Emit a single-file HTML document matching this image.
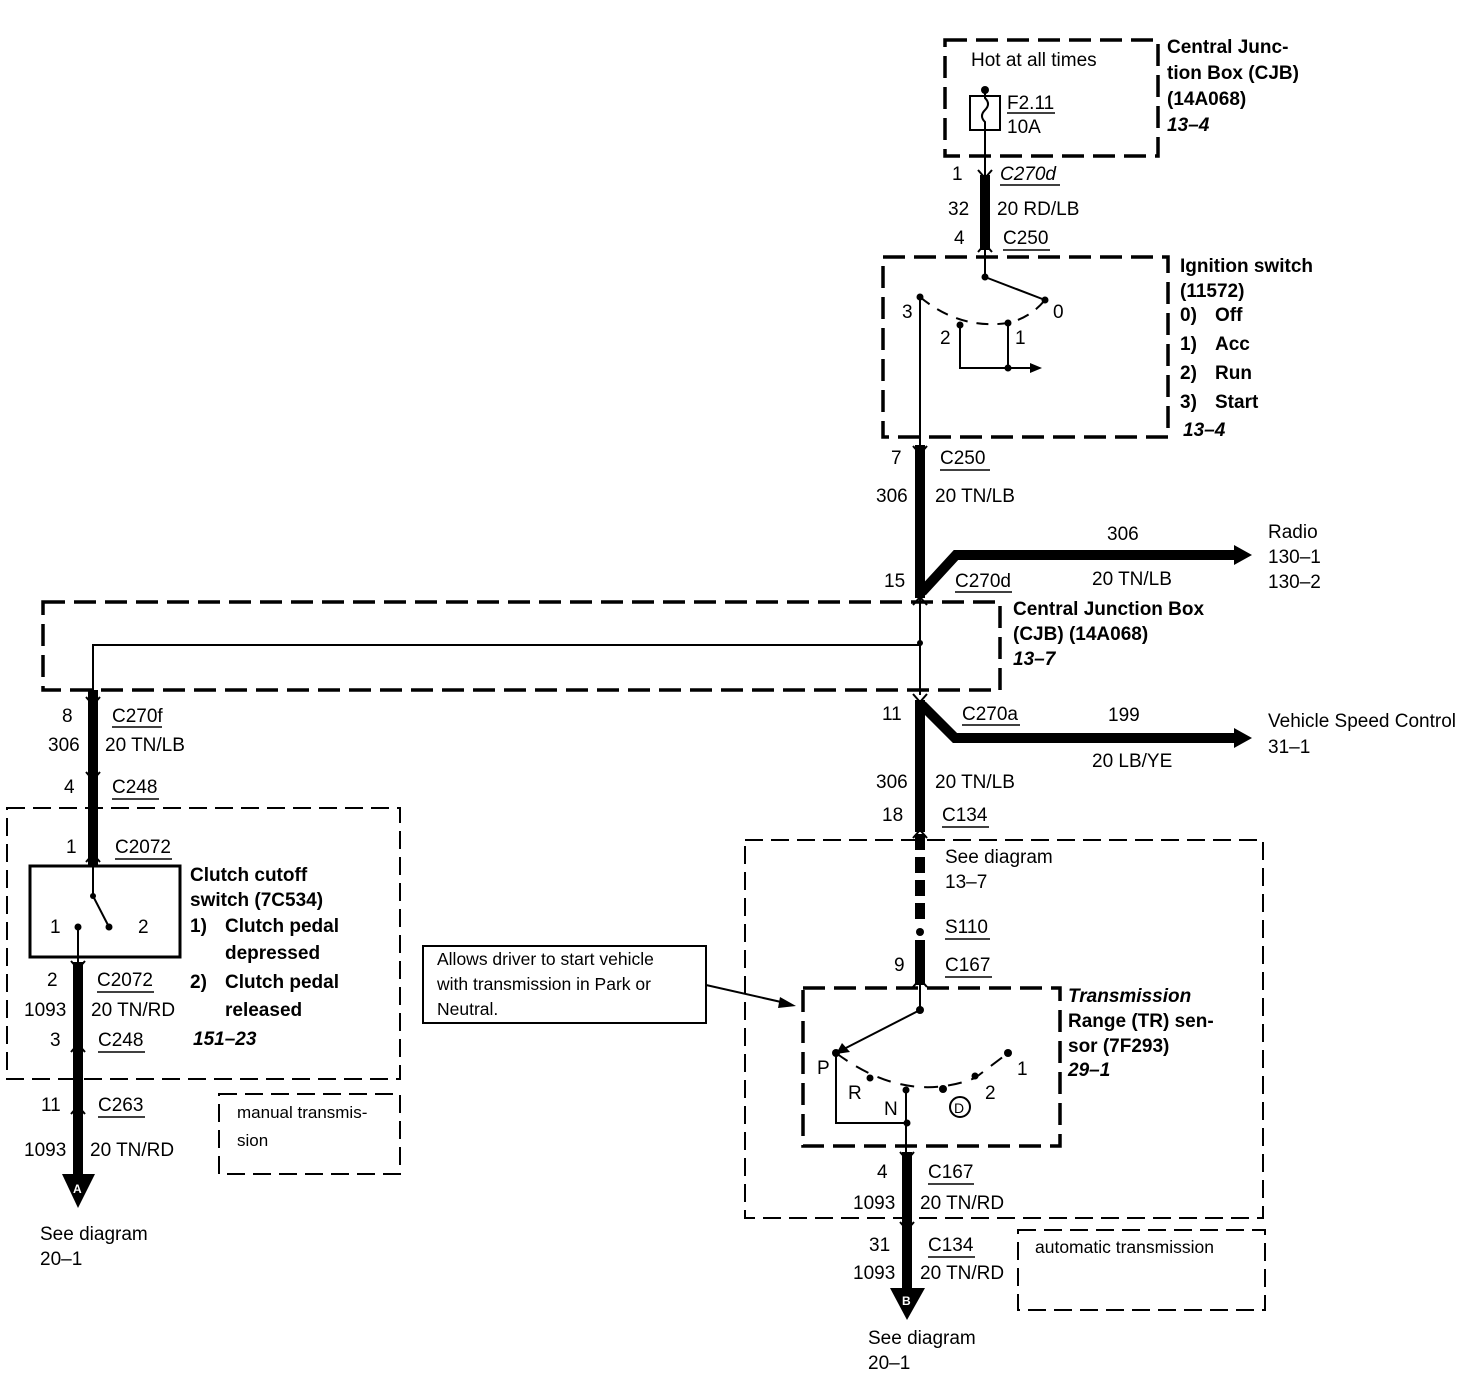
<!DOCTYPE html>
<html><head><meta charset="utf-8"><style>
html,body{margin:0;padding:0;background:#fff;width:1466px;height:1376px;overflow:hidden}
svg{display:block}
text{font-family:"Liberation Sans",Arial,sans-serif;font-size:19px;fill:#000}
.b{font-weight:bold}
.i{font-style:italic;font-weight:bold}
</style></head><body>
<svg width="1466" height="1376" viewBox="0 0 1466 1376" xmlns="http://www.w3.org/2000/svg">
<g fill="none" stroke="#000">
<rect x="945" y="40" width="213" height="116" stroke-width="3.5" stroke-dasharray="22,9"/>
<rect x="883" y="257" width="285" height="180" stroke-width="3.5" stroke-dasharray="22,9"/>
<rect x="43" y="602" width="957" height="88" stroke-width="3.5" stroke-dasharray="22,9"/>
<rect x="803" y="988" width="257" height="158" stroke-width="3.5" stroke-dasharray="22,9"/>
<rect x="7" y="808" width="393" height="271" stroke-width="2" stroke-dasharray="18,8"/>
<rect x="219" y="1094" width="181" height="80" stroke-width="2" stroke-dasharray="18,8"/>
<rect x="745" y="840" width="518" height="378" stroke-width="2" stroke-dasharray="18,8"/>
<rect x="1018" y="1230" width="247" height="80" stroke-width="2" stroke-dasharray="18,8"/>
<rect x="423" y="946" width="283" height="77" stroke-width="2"/>
<line x1="706" y1="985" x2="790" y2="1004" stroke-width="2"/>

<rect x="970" y="96" width="30" height="34" stroke-width="2"/>
<path d="M985 90 V98 Q991 104 985 110 Q979 116 985 122 V175" stroke-width="2"/>
<line x1="1007" y1="113" x2="1055" y2="113" stroke-width="1.5"/>
<line x1="985" y1="175" x2="985" y2="250" stroke-width="10"/>

<line x1="985" y1="250" x2="985" y2="277" stroke-width="2"/>
<line x1="985" y1="277" x2="1045" y2="300" stroke-width="2"/>
<path d="M920 297 Q960 330 1008 323 Q1030 318 1045 300" stroke-width="2" stroke-dasharray="12,9"/>
<path d="M960 325 V368 H1030 M1008 323 V368" stroke-width="2"/>
<line x1="920" y1="297" x2="920" y2="445" stroke-width="2"/>

<line x1="920" y1="445" x2="920" y2="598" stroke-width="10"/>
<path d="M922 592 L956 555 H1236" stroke-width="10"/>
<line x1="920" y1="598" x2="920" y2="695" stroke-width="2"/>
<path d="M920 645 H93 V690" stroke-width="2"/>
<line x1="920" y1="700" x2="920" y2="832" stroke-width="10"/>
<path d="M922 705 L955 738 H1236" stroke-width="10"/>
<line x1="920" y1="834" x2="920" y2="925" stroke-width="10" stroke-dasharray="16,7"/>
<line x1="920" y1="940" x2="920" y2="985" stroke-width="10"/>
<line x1="920" y1="985" x2="920" y2="1010" stroke-width="2"/>

<line x1="920" y1="1010" x2="840" y2="1051" stroke-width="2"/>
<path d="M836 1053 Q906 1105 975 1078 L1008 1053" stroke-width="2" stroke-dasharray="14,10"/>
<path d="M836 1053 V1123 H907 M906 1090 V1152" stroke-width="2"/>
<line x1="907" y1="1152" x2="907" y2="1292" stroke-width="10"/>
<circle cx="960" cy="1107" r="10" stroke-width="2"/>

<line x1="93" y1="690" x2="93" y2="866" stroke-width="10"/>
<rect x="30" y="866" width="150" height="91" stroke-width="3"/>
<path d="M93 866 V896 L109 927" stroke-width="2"/>
<line x1="78" y1="927" x2="78" y2="962" stroke-width="2"/>
<line x1="78" y1="962" x2="78" y2="1178" stroke-width="10"/>

<g stroke-width="1.5">
<line x1="1000" y1="185" x2="1060" y2="185"/><line x1="1003" y1="250" x2="1050" y2="250"/>
<line x1="940" y1="470" x2="990" y2="470"/><line x1="955" y1="592" x2="1012" y2="592"/>
<line x1="962" y1="725" x2="1020" y2="725"/><line x1="942" y1="827" x2="989" y2="827"/>
<line x1="945" y1="939" x2="990" y2="939"/><line x1="945" y1="977" x2="992" y2="977"/>
<line x1="928" y1="1184" x2="974" y2="1184"/><line x1="928" y1="1257" x2="975" y2="1257"/>
<line x1="112" y1="727" x2="162" y2="727"/><line x1="112" y1="799" x2="159" y2="799"/>
<line x1="115" y1="859" x2="172" y2="859"/><line x1="97" y1="992" x2="154" y2="992"/>
<line x1="98" y1="1052" x2="145" y2="1052"/><line x1="98" y1="1117" x2="145" y2="1117"/>
</g>
<g stroke-width="2">
<path d="M978 170 L985 178 L992 170"/><path d="M978 252 L985 244 L992 252"/>
<path d="M913 446 L920 454 L927 446"/><path d="M913 605 L920 597 L927 605"/>
<path d="M913 694 L920 702 L927 694"/><path d="M913 838 L920 830 L927 838"/>
<path d="M913 987 L920 979 L927 987"/><path d="M900 1152 L907 1160 L914 1152"/>
<path d="M900 1222 L907 1230 L914 1222"/>
<path d="M86 697 L93 705 L100 697"/><path d="M86 772 L93 780 L100 772"/>
<path d="M86 862 L93 854 L100 862"/><path d="M71 961 L78 969 L85 961"/>
<path d="M71 1052 L78 1044 L85 1052"/><path d="M71 1114 L78 1106 L85 1114"/>
</g>
</g>
<g fill="#000">
<polygon points="1234,545 1252,555 1234,565"/>
<polygon points="1234,728 1252,738 1234,748"/>
<polygon points="1030,363 1042,368 1030,373"/>
<polygon points="780,997 796,1006 778,1008"/>
<polygon points="842,1043 850,1052 836,1054"/>
<polygon points="62,1174 95,1174 78,1208"/>
<polygon points="890,1288 925,1288 907,1320"/>
<circle cx="985" cy="90" r="4"/><circle cx="985" cy="277" r="3.5"/><circle cx="1045" cy="300" r="3.5"/>
<circle cx="920" cy="297" r="3.5"/><circle cx="960" cy="325" r="3.5"/><circle cx="1008" cy="323" r="3.5"/>
<circle cx="1008" cy="368" r="3.5"/><circle cx="920" cy="643" r="3"/><circle cx="920" cy="932" r="4"/>
<circle cx="920" cy="1010" r="4"/><circle cx="836" cy="1053" r="4"/><circle cx="870" cy="1078" r="3.5"/>
<circle cx="906" cy="1090" r="3.5"/><circle cx="943" cy="1089" r="4"/><circle cx="975" cy="1076" r="3.5"/>
<circle cx="1008" cy="1053" r="4"/><circle cx="907" cy="1123" r="3.5"/>
<circle cx="93" cy="896" r="3"/><circle cx="109" cy="927" r="3.5"/><circle cx="78" cy="927" r="3.5"/>
</g>
<text x="73" y="1193" style="fill:#fff;font-size:12px;font-weight:bold">A</text>
<text x="902" y="1305" style="fill:#fff;font-size:12px;font-weight:bold">B</text>

<text x="971" y="66">Hot at all times</text>
<text x="1007" y="109">F2.11</text><text x="1007" y="133">10A</text>
<text class="b" x="1167" y="53">Central Junc-</text><text class="b" x="1167" y="79">tion Box (CJB)</text>
<text class="b" x="1167" y="105">(14A068)</text><text class="i" x="1167" y="131">13–4</text>
<text x="952" y="180">1</text><text x="1000" y="180" font-style="italic">C270d</text>
<text x="948" y="215">32</text><text x="997" y="215">20 RD/LB</text>
<text x="954" y="244">4</text><text x="1003" y="244">C250</text>
<text class="b" x="1180" y="272">Ignition switch</text><text class="b" x="1180" y="297">(11572)</text>
<text class="b" x="1180" y="321">0)</text><text class="b" x="1215" y="321">Off</text>
<text class="b" x="1180" y="350">1)</text><text class="b" x="1215" y="350">Acc</text>
<text class="b" x="1180" y="379">2)</text><text class="b" x="1215" y="379">Run</text>
<text class="b" x="1180" y="408">3)</text><text class="b" x="1215" y="408">Start</text>
<text class="i" x="1183" y="436">13–4</text>
<text x="902" y="318">3</text><text x="1053" y="318">0</text><text x="940" y="344">2</text><text x="1015" y="344">1</text>
<text x="891" y="464">7</text><text x="940" y="464">C250</text>
<text x="876" y="502">306</text><text x="935" y="502">20 TN/LB</text>
<text x="884" y="587">15</text><text x="955" y="587">C270d</text>
<text x="1107" y="540">306</text><text x="1092" y="585">20 TN/LB</text>
<text x="1268" y="538">Radio</text><text x="1268" y="563">130–1</text><text x="1268" y="588">130–2</text>
<text class="b" x="1013" y="615">Central Junction Box</text><text class="b" x="1013" y="640">(CJB) (14A068)</text>
<text class="i" x="1013" y="665">13–7</text>
<text x="882" y="720">11</text><text x="962" y="720">C270a</text>
<text x="1108" y="721">199</text><text x="1092" y="767">20 LB/YE</text>
<text x="1268" y="727">Vehicle Speed Control</text><text x="1268" y="753">31–1</text>
<text x="876" y="788">306</text><text x="935" y="788">20 TN/LB</text>
<text x="882" y="821">18</text><text x="942" y="821">C134</text>
<text x="945" y="863">See diagram</text><text x="945" y="888">13–7</text>
<text x="945" y="933">S110</text>
<text x="894" y="971">9</text><text x="945" y="971">C167</text>
<text x="437" y="965" style="font-size:17.5px">Allows driver to start vehicle</text>
<text x="437" y="990" style="font-size:17.5px">with transmission in Park or</text>
<text x="437" y="1015" style="font-size:17.5px">Neutral.</text>
<text class="i" x="1068" y="1002">Transmission</text><text class="b" x="1068" y="1027">Range (TR) sen-</text>
<text class="b" x="1068" y="1052">sor (7F293)</text><text class="i" x="1068" y="1076">29–1</text>
<text x="817" y="1074">P</text><text x="848" y="1099">R</text><text x="884" y="1115">N</text>
<text x="954" y="1113" style="font-size:14px">D</text><text x="985" y="1099">2</text><text x="1017" y="1075">1</text>
<text x="877" y="1178">4</text><text x="928" y="1178">C167</text>
<text x="853" y="1209">1093</text><text x="920" y="1209">20 TN/RD</text>
<text x="869" y="1251">31</text><text x="928" y="1251">C134</text>
<text x="853" y="1279">1093</text><text x="920" y="1279">20 TN/RD</text>
<text x="1035" y="1253" style="font-size:17.5px">automatic transmission</text>
<text x="868" y="1344">See diagram</text><text x="868" y="1369">20–1</text>
<text x="62" y="722">8</text><text x="112" y="722">C270f</text>
<text x="48" y="751">306</text><text x="105" y="751">20 TN/LB</text>
<text x="64" y="793">4</text><text x="112" y="793">C248</text>
<text x="66" y="853">1</text><text x="115" y="853">C2072</text>
<text x="50" y="933">1</text><text x="138" y="933">2</text>
<text class="b" x="190" y="881">Clutch cutoff</text><text class="b" x="190" y="906">switch (7C534)</text>
<text class="b" x="190" y="932">1)</text><text class="b" x="225" y="932">Clutch pedal</text>
<text class="b" x="225" y="959">depressed</text>
<text class="b" x="190" y="988">2)</text><text class="b" x="225" y="988">Clutch pedal</text>
<text class="b" x="225" y="1016">released</text>
<text class="i" x="193" y="1045">151–23</text>
<text x="47" y="986">2</text><text x="97" y="986">C2072</text>
<text x="24" y="1016">1093</text><text x="91" y="1016">20 TN/RD</text>
<text x="50" y="1046">3</text><text x="98" y="1046">C248</text>
<text x="41" y="1111">11</text><text x="98" y="1111">C263</text>
<text x="24" y="1156">1093</text><text x="90" y="1156">20 TN/RD</text>
<text x="237" y="1118" style="font-size:17px">manual transmis-</text><text x="237" y="1146" style="font-size:17px">sion</text>
<text x="40" y="1240">See diagram</text><text x="40" y="1265">20–1</text>
</svg>
</body></html>
